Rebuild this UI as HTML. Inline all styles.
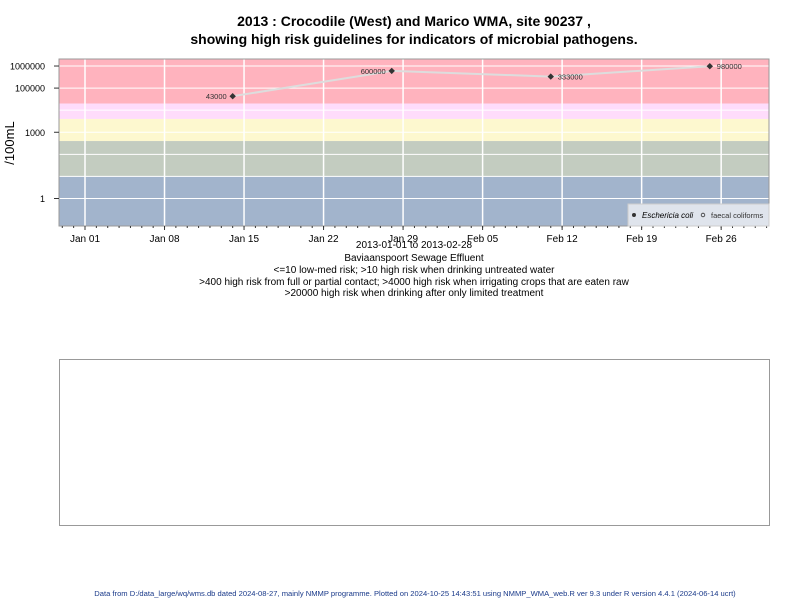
<!DOCTYPE html>
<html><head><meta charset="utf-8"><style>
body{margin:0;background:#fff;width:800px;height:600px;overflow:hidden;font-family:"Liberation Sans",sans-serif}
</style></head><body>
<svg id="chart" width="800" height="600" xmlns="http://www.w3.org/2000/svg" font-family="Liberation Sans, sans-serif">
<text x="414" y="26" text-anchor="middle" font-size="14" font-weight="bold">2013 : Crocodile (West) and Marico WMA, site 90237 ,</text>
<text x="414" y="44" text-anchor="middle" font-size="14" font-weight="bold">showing high risk guidelines for indicators of microbial pathogens.</text>
<g id="bands"></g><g id="grid"></g><g id="series"></g>
<rect x="59" y="59" width="710" height="167" fill="none" stroke="#999"/>
<g id="axes"></g>
<text transform="translate(14,143) rotate(-90)" text-anchor="middle" font-size="13">/100mL</text>
<g>
<rect x="628" y="204" width="141" height="22" fill="#dfe4ec" stroke="#ccc"/>
<circle cx="634" cy="215" r="2" fill="#333"/>
<text x="642" y="218" font-size="8" font-style="italic">Eschericia coli</text>
<circle cx="703" cy="215" r="1.8" fill="none" stroke="#333" stroke-width="0.8"/>
<text x="711" y="218" font-size="7.5" fill="#333">faecal coliforms</text>
</g>
<g font-size="10" text-anchor="middle">
<text x="414" y="248">2013-01-01 to 2013-02-28</text>
<text x="414" y="261">Baviaanspoort Sewage Effluent</text>
<text x="414" y="273">&lt;=10 low-med risk; &gt;10 high risk when drinking untreated water</text>
<text x="414" y="285">&gt;400 high risk from full or partial contact; &gt;4000 high risk when irrigating crops that are eaten raw</text>
<text x="414" y="296">&gt;20000 high risk when drinking after only limited treatment</text>
</g>
<rect x="59.5" y="359.5" width="710" height="166" fill="none" stroke="#999"/>
<text x="415" y="596" text-anchor="middle" font-size="7.6" fill="#1a3a8a">Data from D:/data_large/wq/wms.db dated 2024-08-27, mainly NMMP programme. Plotted on 2024-10-25 14:43:51 using NMMP_WMA_web.R ver 9.3 under R version 4.4.1 (2024-06-14 ucrt)</text>
</svg>
<script>
const dayOffsets=[13,27,41,55]; // days since 2013-01-01
const ecoli=[43000,600000,333000,980000];
const pointLabels=["43000","600000","333000","980000"];
const yTicks=[1,1000,100000,1000000];
const yTickLabels=["1","1000","100000","1000000"];
const xTickDays=[0,7,14,21,28,35,42,49,56];
const xTickLabels=["Jan 01","Jan 08","Jan 15","Jan 22","Jan 29","Feb 05","Feb 12","Feb 19","Feb 26"];
const bandLimits=[20000,4000,400,10];
const bandColors=["#ffb3be","#fedcfb","#fdf8cf","#c3ccc0","#a2b4cc"];

const NS="http://www.w3.org/2000/svg";
const X0=59,X1=769,Y0=59,Y1=226;
function xs(d){return 85+d*11.36;}
function ys(v){return 198.5-Math.log10(v)*22.08;}
function mk(tag,attrs,parent){const e=document.createElementNS(NS,tag);for(const k in attrs)e.setAttribute(k,attrs[k]);document.getElementById(parent).appendChild(e);return e;}
// bands
let bandTop=Y0;
for(let i=0;i<bandColors.length;i++){
  const bot=i<bandLimits.length?ys(bandLimits[i]):Y1;
  const r=mk('rect',{x:X0,y:bandTop,width:X1-X0,height:bot-bandTop,fill:bandColors[i]},'bands');
  
  
  bandTop=bot;
}
// grid
for(let p=0;p<=6;p++){
  const l=mk('line',{x1:X0,x2:X1,y1:ys(Math.pow(10,p)),y2:ys(Math.pow(10,p)),stroke:'#fff','stroke-width':1},'grid');
  
  
}
for(let i=0;i<xTickDays.length;i++){
  const x=xs(xTickDays[i]);
  const l=mk('line',{x1:x,x2:x,y1:Y0,y2:Y1,stroke:'#fff','stroke-width':1.5},'grid');
  
  
  const t=mk('line',{x1:x,x2:x,y1:Y1,y2:Y1+4,stroke:'#333'},'axes');
  
  
  const tx=mk('text',{x:x,y:Y1+16,'text-anchor':'middle','font-size':10},'axes');
  tx.textContent=xTickLabels[i];
  
  
}
for(let d=-2;d<=62;d++){
  const x=xs(d); if(x<X0||x>X1)continue;
  const t=mk('line',{x1:x,x2:x,y1:Y1,y2:Y1+2,stroke:'#333'},'axes');
  
  
}
for(let i=0;i<yTicks.length;i++){
  const y=ys(yTicks[i]);
  const t=mk('line',{x1:X0-5,x2:X0,y1:y,y2:y,stroke:'#333'},'axes');
  
  
  const tx=mk('text',{x:X0-14,y:y+3.5,'text-anchor':'end','font-size':9},'axes');
  tx.textContent=yTickLabels[i];
  
  
}
// series
const pts=dayOffsets.map((d,i)=>xs(d)+','+ys(ecoli[i])).join(' ');
const pl=mk('polyline',{points:pts,fill:'none',stroke:'#ddd','stroke-width':2},'series');


for(let i=0;i<ecoli.length;i++){
  const x=xs(dayOffsets[i]),y=ys(ecoli[i]);
  const c=mk('path',{d:`M${x},${y-3.2}L${x+3.2},${y}L${x},${y+3.2}L${x-3.2},${y}Z`,fill:'#333'},'series');
  
  
  const left=(i<2);
  const t=mk('text',{x:left?x-6:x+7,y:y+3,'text-anchor':left?'end':'start','font-size':7.5,fill:'#333'},'series');
  t.textContent=pointLabels[i];
  
  
}
</script>
</body></html>
